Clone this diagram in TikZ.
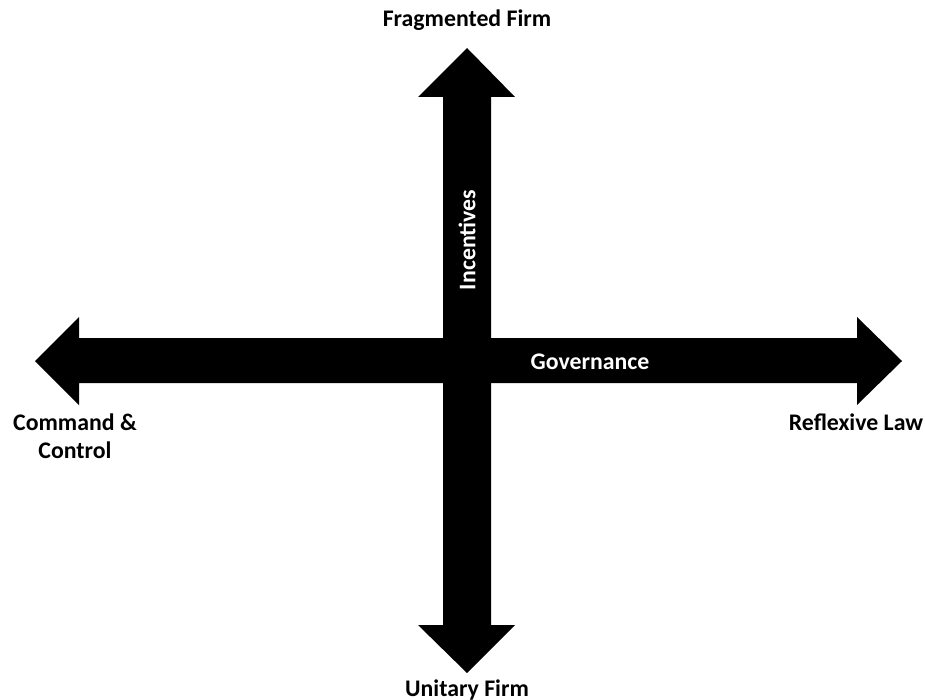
\documentclass[tikz,border=0pt]{standalone}
\usepackage{fontspec}
\setmainfont{Carlito}
\begin{document}
\begin{tikzpicture}[x=1pt,y=-1pt,
  lbl/.style={font=\bfseries\fontsize{23.8}{28}\selectfont},
  inlbl/.style={lbl,text=white}]
\useasboundingbox (0,0) rectangle (925,700);
% vertical arrow
\fill (443,97)--(418,97)--(467,48)--(515,97)--(491,97)--(491,625)--(515,625)--(467,673)--(418,625)--(443,625)--cycle;
% horizontal arrow
\fill (79,338)--(79,317)--(35,361)--(79,405)--(79,383)--(857,383)--(857,405)--(902,361)--(857,317)--(857,338)--cycle;
\node[lbl] (frag) at (467,20) {Fragmented Firm};
\node[lbl] (unit) at (467,690) {Unitary Firm};
\node[lbl,align=center] (cc) at (75,436) {Command \&\\Control};
\node[lbl] (refl) at (856,422) {Reflexive Law};
\node[inlbl,rotate=90] (inc) at (467,240) {Incentives};
\node[inlbl] (gov) at (590,362) {Governance};
\end{tikzpicture}
\end{document}
